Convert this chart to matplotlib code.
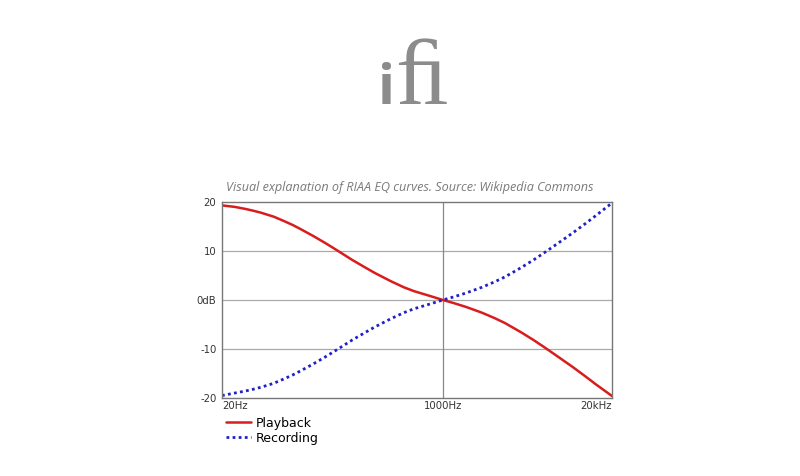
import matplotlib
matplotlib.use("Agg")
import matplotlib.pyplot as plt

freqs = [20, 25, 30, 35, 40, 50, 60, 70, 80, 100, 125, 150, 200, 250, 300, 400, 500, 600, 800,
         1000, 1200, 1500, 2000, 2500, 3000, 4000, 5000, 6000, 8000, 10000, 12500, 15000, 20000]
playback = [19.3, 19.0, 18.6, 18.2, 17.8, 17.0, 16.1, 15.3, 14.5, 13.1, 11.6, 10.3, 8.2, 6.7, 5.5, 3.8, 2.6, 1.8, 0.8,
            0.0, -0.6, -1.4, -2.6, -3.7, -4.7, -6.6, -8.2, -9.6, -11.9, -13.7, -15.6, -17.2, -19.6]
recording = [-19.5, -19.0, -18.6, -18.2, -17.8, -17.0, -16.1, -15.3, -14.5, -13.1, -11.6, -10.3, -8.2, -6.7, -5.5, -3.8, -2.6, -1.8, -0.8,
             0.0, 0.6, 1.4, 2.6, 3.7, 4.7, 6.6, 8.2, 9.6, 11.9, 13.7, 15.6, 17.2, 19.8]
yticks = [20, 10, 0, -10, -20]
ytick_labels = ["20", "10", "0dB", "-10", "-20"]
xticks = [20, 1000, 20000]
xtick_labels = ["20Hz", "1000Hz", "20kHz"]

fig = plt.figure(figsize=(8, 4.76), dpi=100)
fig.patch.set_facecolor("white")

# logo
serif = ["Liberation Serif", "DejaVu Serif"]
fig.text(0.4825, 0.7815, "i", family="Open Sans", fontweight="bold", fontsize=40, color="#8c8c8c",
         ha="center", va="baseline")
fig.text(0.527, 0.7815, "\ufb01", family=serif, fontsize=68, color="#8c8c8c", ha="center", va="baseline")

# title
fig.text(0.512, 0.607, "Visual explanation of RIAA EQ curves. Source: Wikipedia Commons",
         family="Open Sans", style="italic", fontsize=9.1, color="#7a7a7a", ha="center", va="center")

ax = fig.add_axes([0.2775, 0.1639, 0.4875, 0.4118])
ax.set_xscale("log")
ax.set_xlim(20, 20000)
ax.set_ylim(-20, 20)

ax.plot(freqs, playback, color="#d91c1c", lw=1.8, label="Playback", solid_capstyle="round")
ax.plot(freqs, recording, color="#2020c8", lw=2.0, ls=(0, (1, 1.2)), label="Recording")

for yv in [10, 0, -10]:
    ax.axhline(yv, color="#aaaaaa", lw=0.9, zorder=0)
ax.axvline(1000, color="#888888", lw=0.9, zorder=0)

ax.set_yticks(yticks)
ax.set_yticklabels(ytick_labels)
ax.set_xticks(xticks)
ax.set_xticklabels(xtick_labels)
ax.minorticks_off()
ax.tick_params(length=0, labelsize=7.3, colors="#333333", pad=4)
xl = ax.get_xticklabels()
xl[0].set_ha("left")
xl[-1].set_ha("right")
ax.tick_params(axis="x", pad=2)
for s in ax.spines.values():
    s.set_color("#777777")
    s.set_linewidth(1.0)

fig.legend(loc="upper left", bbox_to_anchor=(0.276, 0.135), frameon=False, fontsize=9,
           handlelength=2.0, handletextpad=0.4, labelspacing=0.15, borderaxespad=0)

fig.savefig("out.png", dpi=100, facecolor="white")
